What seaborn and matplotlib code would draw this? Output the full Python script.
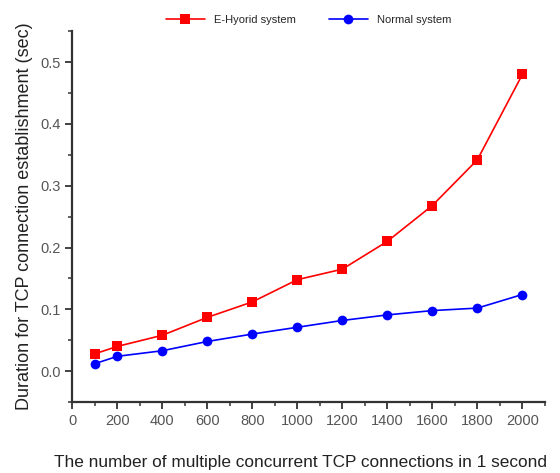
import matplotlib
matplotlib.use("Agg")
import matplotlib.pyplot as plt
import seaborn as sns
import pandas as pd
from matplotlib.ticker import MultipleLocator

connections = [100, 200, 400, 600, 800, 1000, 1200, 1400, 1600, 1800, 2000]
hybrid = [0.028, 0.040, 0.058, 0.087, 0.112, 0.148, 0.165, 0.210, 0.268, 0.342, 0.480]
normal = [0.012, 0.024, 0.033, 0.048, 0.060, 0.071, 0.082, 0.091, 0.098, 0.102, 0.124]
series_names = ["E-Hyorid system", "Normal system"]

sns.set_style("ticks")
plt.rcParams['font.family'] = ['Liberation Sans', 'DejaVu Sans']

df = pd.DataFrame({
    "x": connections * 2,
    "y": hybrid + normal,
    "series": [series_names[0]] * len(connections) + [series_names[1]] * len(connections),
})

fig = plt.figure(figsize=(5.6, 4.73), dpi=100)
ax = fig.add_axes([0.129, 0.150, 0.844, 0.784])
sns.lineplot(data=df, x="x", y="y", hue="series", style="series",
             palette={series_names[0]: "#ff0000", series_names[1]: "#0000ff"},
             markers={series_names[0]: "s", series_names[1]: "o"},
             dashes=False, markersize=7, markeredgewidth=0, linewidth=1.2, ax=ax)

ax.set_xlim(0, 2100)
ax.set_ylim(-0.05, 0.55)
ax.xaxis.set_major_locator(MultipleLocator(200))
ax.xaxis.set_minor_locator(MultipleLocator(100))
ax.yaxis.set_major_locator(MultipleLocator(0.1))
ax.yaxis.set_minor_locator(MultipleLocator(0.05))
ax.set_yticks([0.0, 0.1, 0.2, 0.3, 0.4, 0.5])
ax.set_yticklabels(["0.0", "0.1", "0.2", "0.3", "0.4", "0.5"])
ax.tick_params(axis="both", which="major", direction="out", length=5, width=1.3, labelsize=10.5, colors="#333333", labelcolor="#555555")
ax.tick_params(axis="both", which="minor", direction="out", length=3, width=1.1, colors="#333333")
for s in ["left", "bottom"]:
    ax.spines[s].set_linewidth(1.6)
    ax.spines[s].set_color("#333333")
sns.despine(ax=ax)

ax.set_xlabel("The number of multiple concurrent TCP connections in 1 second", fontsize=12.4, color="#222222", va="center")
ax.xaxis.set_label_coords(0.482, -0.162)
ax.set_ylabel("Duration for TCP connection establishment (sec)", fontsize=13, labelpad=5, color="#222222")

ax.legend(loc="lower center", bbox_to_anchor=(0.5, 1.0), ncol=2, frameon=False,
          fontsize=8, handlelength=3.5, columnspacing=3, title=None, borderaxespad=0.2)

fig.savefig("out.png", dpi=100)
